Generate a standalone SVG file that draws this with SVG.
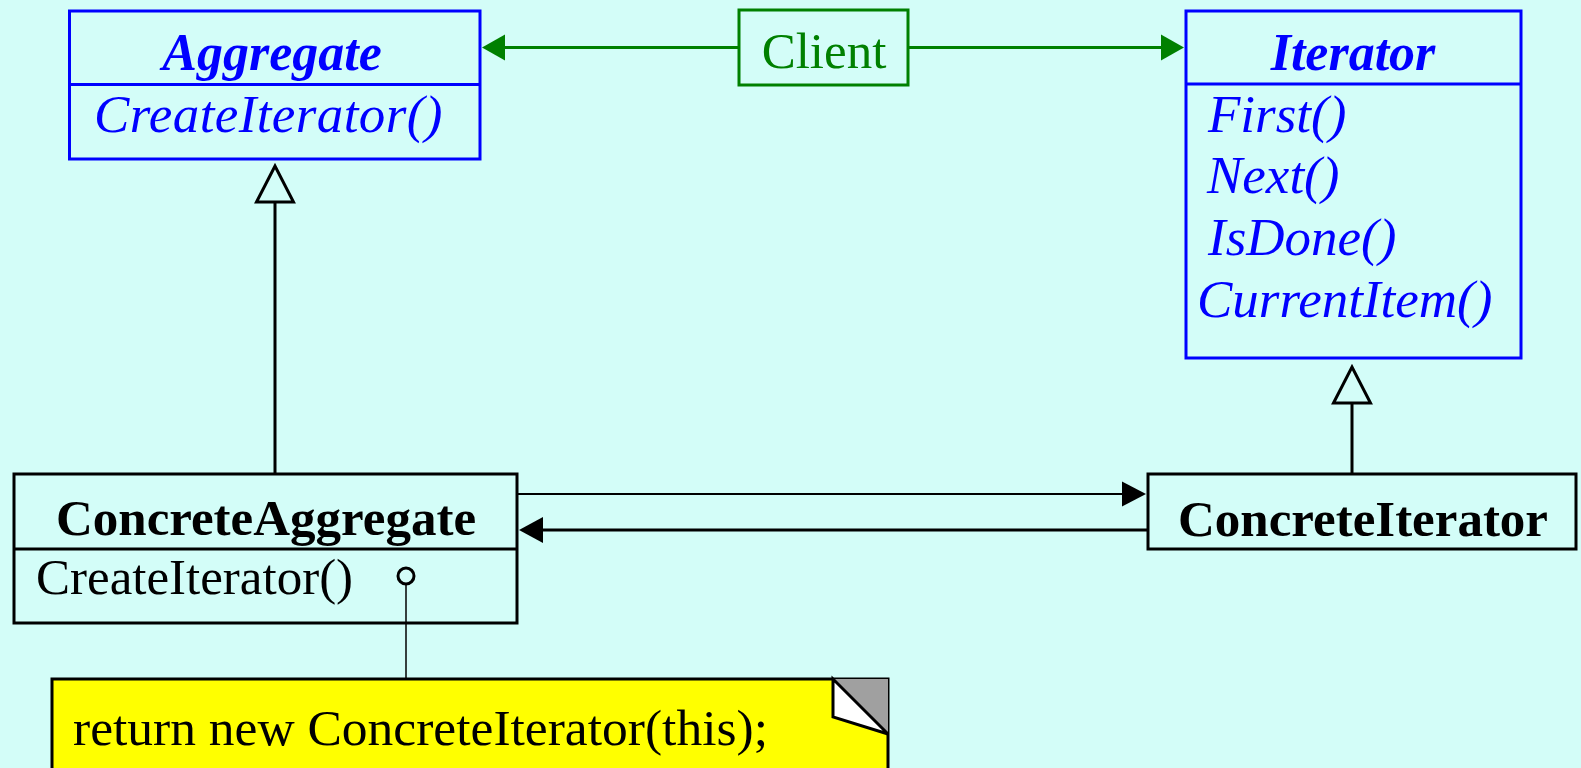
<svg xmlns="http://www.w3.org/2000/svg" width="1581" height="768" viewBox="0 0 1581 768">
  <style>
    .bg { fill: #d3fdf8; }
    .iface { fill: none; stroke: #0000ff; stroke-width: 3; }
    .cls { fill: none; stroke: #000000; stroke-width: 3; }
    .client { fill: none; stroke: #008000; stroke-width: 3; }
    .t { font-family: "Liberation Serif", "Times New Roman", serif; }
    .blue { fill: #0000ff; }
    .green { fill: #008000; }
    .black { fill: #000000; }
    .title-i { font-size: 52px; font-weight: bold; font-style: italic; }
    .op-i { font-size: 53px; font-style: italic; }
    .title { font-size: 51px; font-weight: bold; }
    .op { font-size: 51px; }
    .note-text { font-size: 51.5px; }
    .assoc-g { stroke: #008000; stroke-width: 3; fill: none; }
    .assoc-b { stroke: #000000; stroke-width: 3; fill: none; }
    .assoc-thin { stroke: #000000; stroke-width: 1.8; fill: none; }
    .link { stroke: #000000; stroke-width: 1.5; fill: none; }
  </style>
  <defs>
    <marker id="head-green" markerUnits="userSpaceOnUse" markerWidth="24" markerHeight="26" refX="13" refY="13" orient="auto" overflow="visible">
      <path d="M0,0 L23,13 L0,26 z" fill="#008000"/>
    </marker>
    <marker id="head-black" markerUnits="userSpaceOnUse" markerWidth="24" markerHeight="26" refX="14" refY="13" orient="auto" overflow="visible">
      <path d="M0,0 L24,13 L0,26 z" fill="#000000"/>
    </marker>
    <marker id="head-black-sm" markerUnits="userSpaceOnUse" markerWidth="24" markerHeight="25" refX="14" refY="12.5" orient="auto" overflow="visible">
      <path d="M0,0 L24,12.5 L0,25 z" fill="#000000"/>
    </marker>
    <marker id="inherit" markerUnits="userSpaceOnUse" markerWidth="37" markerHeight="38" refX="0" refY="18.5" orient="auto" overflow="visible">
      <path d="M0,0 L36,18.5 L0,37 z" fill="#d3fdf8" stroke="#000000" stroke-width="3" stroke-linejoin="miter"/>
    </marker>
  </defs>

  <rect class="bg" x="0" y="0" width="1581" height="768"/>

  <!-- connectors -->
  <g id="connectors">
    <line class="assoc-g" x1="739" y1="47.5" x2="492" y2="47.5" marker-end="url(#head-green)"/>
    <line class="assoc-g" x1="908" y1="47.5" x2="1174" y2="47.5" marker-end="url(#head-green)"/>
    <line class="assoc-b" x1="275" y1="474" x2="275" y2="202" marker-end="url(#inherit)"/>
    <line class="assoc-b" x1="1352" y1="474" x2="1352" y2="403" marker-end="url(#inherit)"/>
    <line class="assoc-thin" x1="517" y1="494" x2="1136" y2="494" marker-end="url(#head-black-sm)"/>
    <line class="assoc-b" x1="1148" y1="530" x2="529" y2="530" marker-end="url(#head-black)"/>
    <line class="link" x1="406" y1="585" x2="406" y2="679"/>
    <circle cx="406" cy="576" r="8" fill="#d3fdf8" stroke="#000000" stroke-width="3"/>
  </g>

  <!-- abstract aggregate -->
  <g id="aggregate">
    <rect class="iface" x="69.5" y="11" width="410.5" height="148"/>
    <line class="iface" x1="69.5" y1="84.5" x2="480" y2="84.5"/>
    <text class="t blue title-i" x="272" y="70" text-anchor="middle">Aggregate</text>
    <text class="t blue op-i" x="94" y="132" letter-spacing="0.4">CreateIterator()</text>
  </g>

  <!-- client -->
  <g id="client">
    <rect class="client" x="739" y="10" width="169" height="75"/>
    <text class="t green op" x="824" y="68" text-anchor="middle">Client</text>
  </g>

  <!-- abstract iterator -->
  <g id="iterator">
    <rect class="iface" x="1186" y="11" width="335" height="347"/>
    <line class="iface" x1="1186" y1="84" x2="1521" y2="84"/>
    <text class="t blue title-i" x="1353" y="70" text-anchor="middle">Iterator</text>
    <text class="t blue op-i" x="1208" y="132">First()</text>
    <text class="t blue op-i" x="1207" y="193">Next()</text>
    <text class="t blue op-i" x="1208" y="255">IsDone()</text>
    <text class="t blue op-i" x="1197" y="317">CurrentItem()</text>
  </g>

  <!-- concrete aggregate -->
  <g id="concrete-aggregate">
    <rect class="cls" x="14" y="474" width="503" height="149"/>
    <line class="cls" x1="14" y1="549" x2="517" y2="549"/>
    <text class="t black title" x="266" y="535" text-anchor="middle">ConcreteAggregate</text>
    <text class="t black op" x="36" y="594">CreateIterator()</text>
  </g>

  <!-- concrete iterator -->
  <g id="concrete-iterator">
    <rect class="cls" x="1148" y="474" width="428" height="75"/>
    <text class="t black title" x="1363" y="536" text-anchor="middle">ConcreteIterator</text>
  </g>

  <!-- implementation note -->
  <g id="note">
    <path d="M52,790 L52,679 L833,679 L888,679 L888,790" fill="#ffff00" stroke="#000000" stroke-width="3"/>
    <path d="M833,679 L888,679 L888,734 z" fill="#a0a0a0"/>
    <path d="M833,679 L833,717 L888,734 z" fill="#ffffff" stroke="#000000" stroke-width="3" stroke-linejoin="miter"/>
    <text class="t black note-text" x="73" y="745">return new ConcreteIterator(this);</text>
  </g>
</svg>
